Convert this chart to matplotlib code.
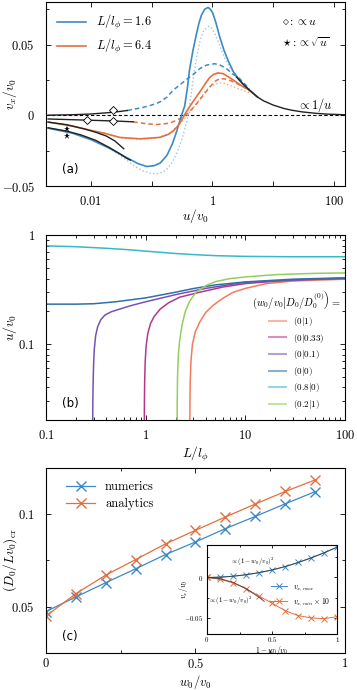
import numpy as np
import matplotlib.pyplot as plt
from matplotlib.lines import Line2D
from matplotlib.ticker import FixedLocator, NullLocator, LogLocator, FixedFormatter

plt.rcParams['mathtext.fontset'] = 'cm'
plt.rcParams['font.family'] = 'serif'
plt.rcParams['font.serif'] = ['cmr10', 'DejaVu Serif']
plt.rcParams['axes.formatter.use_mathtext'] = True
plt.rcParams['font.size'] = 9
plt.rcParams['axes.labelsize'] = 9.5
plt.rcParams['axes.linewidth'] = 0.8

BLUE = '#3d8ac4'
ORANGE = '#e2703f'
LBLUE = '#9cc6e6'
LORANGE = '#f0aa88'

# ---------------- panel (a) data ----------------
u_bs = [0.002, 0.005, 0.01, 0.02, 0.04, 0.06, 0.083, 0.11, 0.14, 0.18, 0.22, 0.26, 0.31, 0.35,
        0.39, 0.42, 0.48, 0.55, 0.6, 0.66, 0.75, 0.85, 0.93, 1.02, 1.15, 1.32, 1.55, 1.8, 2.2, 2.8, 4.1, 5.5]
v_bs = [-0.009, -0.0125, -0.017, -0.023, -0.030, -0.034, -0.036, -0.0355, -0.0335, -0.028, -0.020, -0.011, 0.0,
        0.0065, 0.02, 0.032, 0.046, 0.058, 0.065, 0.0707, 0.075, 0.0762, 0.0748, 0.072, 0.065, 0.0554, 0.046,
        0.039, 0.031, 0.0248, 0.0177, 0.013]

u_bd = [0.02, 0.03, 0.05, 0.07, 0.1, 0.13, 0.17, 0.22, 0.27, 0.32, 0.36, 0.40, 0.45, 0.5, 0.56, 0.63, 0.72,
        0.88, 1.0, 1.12, 1.3, 1.5, 1.9, 2.8, 4.1]
v_bd = [-0.023, -0.028, -0.035, -0.039, -0.041, -0.041, -0.039, -0.033, -0.025, -0.016, -0.008, 0.0, 0.016,
        0.030, 0.043, 0.053, 0.060, 0.063, 0.061, 0.057, 0.050, 0.043, 0.034, 0.025, 0.017]

u_bdash = [0.04, 0.07, 0.1, 0.136, 0.18, 0.225, 0.3, 0.42, 0.52, 0.62, 0.8, 1.09, 1.35, 1.7, 2.2, 2.8, 4.1]
v_bdash = [0.0035, 0.0055, 0.0073, 0.0094, 0.013, 0.0177, 0.022, 0.027, 0.030, 0.033, 0.0355, 0.0365,
           0.0355, 0.033, 0.029, 0.026, 0.0185]

u_os = [0.002, 0.005, 0.01, 0.0165, 0.03, 0.065, 0.137, 0.19, 0.226, 0.27, 0.31, 0.37, 0.45, 0.62, 0.78,
        0.9, 1.05, 1.23, 1.5, 1.8, 2.2, 3.0, 4.1, 5.5]
v_os = [-0.0047, -0.0075, -0.0105, -0.0125, -0.0155, -0.0165, -0.0155, -0.0133, -0.011, -0.0075, -0.0035,
        0.0024, 0.008, 0.0165, 0.023, 0.0267, 0.029, 0.030, 0.0295, 0.0275, 0.025, 0.021, 0.0177, 0.013]

u_od = [0.0165, 0.03, 0.06, 0.12, 0.2, 0.3, 0.4, 0.5, 0.6, 0.75, 0.9, 1.1, 1.32, 1.6, 2.0, 3.0, 4.1]
v_od = [-0.0122, -0.0158, -0.0168, -0.016, -0.0125, -0.0055, 0.001, 0.006, 0.011, 0.0165, 0.020, 0.022,
        0.0229, 0.0225, 0.021, 0.018, 0.016]

u_odash = [0.05, 0.08, 0.12, 0.2, 0.3, 0.37, 0.5, 0.7, 0.9, 1.1, 1.32, 1.6, 2.0, 3.0, 4.1]
v_odash = [-0.0045, -0.0058, -0.0064, -0.0055, -0.002, 0.0005, 0.006, 0.014, 0.020, 0.024, 0.026, 0.0258,
           0.0245, 0.021, 0.0178]

# black asymptotes
u_lin_p = [0.002, 0.005, 0.01, 0.02, 0.03, 0.04]
v_lin_p = [0.0002, 0.0005, 0.001, 0.002, 0.0028, 0.0035]
u_lin_n = [0.002, 0.005, 0.01, 0.02, 0.035, 0.05]
v_lin_n = [-0.0025, -0.003, -0.0034, -0.0038, -0.0042, -0.0045]
u_sq1 = [0.002, 0.004, 0.007, 0.012, 0.02, 0.03, 0.04, 0.045]
v_sq1 = [-0.0087, -0.011, -0.0138, -0.0175, -0.0225, -0.027, -0.0305, -0.0315]
u_sq2 = [0.002, 0.004, 0.0077, 0.012, 0.018, 0.025, 0.03, 0.035]
v_sq2 = [-0.0047, -0.0065, -0.0094, -0.0118, -0.0145, -0.018, -0.021, -0.0235]
u_inv = [2.5, 3.2, 4.1, 5.5, 7, 10, 15, 20, 30, 50, 80, 150]
v_inv = [0.027, 0.022, 0.0177, 0.013, 0.0102, 0.0073, 0.0049, 0.0037, 0.0025, 0.0015, 0.0009, 0.0005]

star_u = [0.0041, 0.0041]
star_v = [-0.0094, -0.0146]
dia_u = [0.0086, 0.0235, 0.0235]
dia_v = [-0.0035, 0.0035, -0.004]

# ---------------- panel (b) data ----------------
b_labels = ['(0|1)', '(0|0.33)', '(0|0.1)', '(0|0)', '(0.8|0)', '(0.2|1)']
b_colors = ['#f47b5e', '#b5378c', '#7652b5', '#2f70a8', '#35bac6', '#93cf5c']
b_x = [
    [2.78, 2.785, 2.8, 2.85, 2.95, 3.15, 3.5, 4.0, 4.77, 6, 7.6, 10, 16.3, 30, 100],
    [0.97, 0.972, 0.977, 0.99, 1.01, 1.05, 1.12, 1.22, 1.4, 1.7, 2.2, 3.5, 6, 10, 30, 100],
    [0.294, 0.295, 0.297, 0.30, 0.305, 0.315, 0.33, 0.355, 0.39, 0.45, 0.55, 0.7, 1, 2, 4, 10, 100],
    [0.1, 0.2, 0.3, 0.5, 1, 2, 3, 5, 10, 30, 100],
    [0.1, 0.2, 0.4, 0.7, 1, 1.5, 2, 3, 5, 10, 30, 100],
    [2.07, 2.075, 2.09, 2.13, 2.2, 2.32, 2.5, 2.78, 3.2, 4.09, 5, 7, 10, 20, 50, 100],
]
b_y = [
    [0.02, 0.03, 0.045, 0.07, 0.10, 0.13, 0.16, 0.195, 0.228, 0.265, 0.30, 0.325, 0.36, 0.38, 0.395],
    [0.02, 0.03, 0.045, 0.07, 0.095, 0.125, 0.155, 0.18, 0.21, 0.24, 0.27, 0.30, 0.335, 0.36, 0.39, 0.40],
    [0.02, 0.03, 0.045, 0.065, 0.09, 0.12, 0.145, 0.168, 0.185, 0.198, 0.21, 0.225, 0.245, 0.285, 0.325,
     0.37, 0.405],
    [0.233, 0.233, 0.235, 0.245, 0.266, 0.30, 0.324, 0.35, 0.373, 0.395, 0.407],
    [0.80, 0.785, 0.76, 0.735, 0.715, 0.695, 0.68, 0.665, 0.65, 0.64, 0.635, 0.635],
    [0.02, 0.03, 0.05, 0.08, 0.11, 0.15, 0.20, 0.25, 0.30, 0.347, 0.375, 0.40, 0.414, 0.435, 0.447, 0.451],
]

# ---------------- panel (c) data ----------------
w = [0, 0.1, 0.2, 0.3, 0.4, 0.5, 0.6, 0.7, 0.8, 0.9]
num = [0.0473, 0.0552, 0.0629, 0.0704, 0.0781, 0.0849, 0.0921, 0.0987, 0.1055, 0.1121]
ana = [0.0449, 0.0570, 0.0670, 0.0754, 0.0839, 0.0912, 0.0984, 0.1054, 0.1122, 0.1184]
xi = [0, 0.1, 0.2, 0.3, 0.4, 0.5, 0.6, 0.7, 0.8, 0.9, 1.0]
vmax = [0, 0.0002, 0.0016, 0.0033, 0.0058, 0.0091, 0.0133, 0.0185, 0.0243, 0.0305, 0.0375]
vmin10 = [0, -0.0021, -0.0068, -0.0138, -0.023, -0.0318, -0.0409, -0.0471, -0.050, -0.0509, -0.0484]
xi_fit_p = [0, 0.1, 0.2, 0.3, 0.4, 0.5, 0.6, 0.7, 0.8, 0.9, 1.0]
v_fit_p = [0, 0.0004, 0.0015, 0.0034, 0.006, 0.0094, 0.0135, 0.0184, 0.024, 0.0304, 0.0375]
xi_fit_n = [0, 0.1, 0.2, 0.3, 0.4, 0.44]
v_fit_n = [0, -0.0015, -0.006, -0.0138, -0.0245, -0.0295]

fig = plt.figure(figsize=(3.57, 6.9), dpi=100)
axa = fig.add_axes([0.129, 0.730, 0.837, 0.267])
axb = fig.add_axes([0.129, 0.391, 0.837, 0.268])
axc = fig.add_axes([0.129, 0.054, 0.837, 0.268])
axi = fig.add_axes([0.580, 0.081, 0.364, 0.129])

for ax in (axa, axb, axc, axi):
    ax.tick_params(which='both', direction='in', top=True, right=True, width=0.6)
    ax.tick_params(which='major', length=3.5)
    ax.tick_params(which='minor', length=2)
for ax in (axa, axb, axc):
    ax.tick_params(axis='y', which='both', pad=8)
    ax.tick_params(axis='x', which='both', pad=6.5)
axc.tick_params(axis='x', which='both', pad=3)

# ---- (a) ----
axa.axhline(0, color='k', ls='--', lw=0.8, dashes=(3, 2))
axa.plot(u_bd, v_bd, color=LBLUE, ls=':', lw=1.0)
axa.plot(u_od, v_od, color=LORANGE, ls=':', lw=1.0)
axa.plot(u_bdash, v_bdash, color=BLUE, ls='--', lw=1.1, dashes=(3, 2))
axa.plot(u_odash, v_odash, color=ORANGE, ls='--', lw=1.1, dashes=(3, 2))
axa.plot(u_bs, v_bs, color=BLUE, lw=1.2, label=r'$L/l_\phi = 1.6$')
axa.plot(u_os, v_os, color=ORANGE, lw=1.2, label=r'$L/l_\phi = 6.4$')
for uu, vv in ((u_lin_p, v_lin_p), (u_lin_n, v_lin_n), (u_sq1, v_sq1), (u_sq2, v_sq2), (u_inv, v_inv)):
    axa.plot(uu, vv, color='#222222', lw=1.0)
axa.plot(star_u, star_v, ls='none', marker='*', ms=5, color='k', mew=0)
axa.plot(dia_u, dia_v, ls='none', marker='D', ms=4, mfc='white', mec='k', mew=0.6)
axa.set_xscale('log')
axa.set_xlim(0.00185, 150)
axa.set_ylim(-0.05, 0.08)
axa.xaxis.set_major_locator(FixedLocator([0.01, 0.1, 1, 10, 100]))
axa.xaxis.set_major_formatter(FixedFormatter([r'$0.01$', '', r'$1$', '', r'$100$']))
axa.xaxis.set_minor_locator(NullLocator())
axa.yaxis.set_major_locator(FixedLocator([-0.05, 0, 0.05]))
axa.yaxis.set_major_formatter(FixedFormatter([r'$-0.05$', r'$0$', r'$0.05$']))
axa.yaxis.set_minor_locator(FixedLocator([-0.025, 0.025, 0.075]))
axa.set_xlabel(r'$u/v_0$')
axa.set_ylabel(r'$v_x/v_0$')
axa.xaxis.set_label_coords(0.5, -0.11)
axa.yaxis.set_label_coords(-0.09, 0.5)
axa.legend(loc='upper left', frameon=False, handlelength=2.3, fontsize=9,
           bbox_to_anchor=(0.0, 1.0), labelspacing=0.4)
axa.text(0.79, 0.89, r'$\diamond:\propto u$', transform=axa.transAxes, fontsize=8.5, va='center')
axa.text(0.79, 0.78, r'$\star:\propto \sqrt{u}$', transform=axa.transAxes, fontsize=8.5, va='center')
axa.text(25, 0.0045, r'$\propto 1/u$', fontsize=9)
axa.text(0.055, 0.07, '(a)', transform=axa.transAxes, family='DejaVu Sans', fontsize=8.5)

# ---- (b) ----
handles = []
for xs, ys, c, lab in zip(b_x, b_y, b_colors, b_labels):
    axb.plot(xs, ys, color=c, lw=1.1)
    handles.append(Line2D([], [], color=c, lw=1.5, alpha=0.55, label='$' + lab + '$'))
axb.set_xscale('log')
axb.set_yscale('log')
axb.set_xlim(0.1, 100)
axb.set_ylim(0.02, 1)
axb.xaxis.set_major_locator(FixedLocator([0.1, 1, 10, 100]))
axb.xaxis.set_major_formatter(FixedFormatter([r'$0.1$', r'$1$', r'$10$', r'$100$']))
axb.xaxis.set_minor_locator(LogLocator(base=10, subs=np.arange(2, 10)))
axb.yaxis.set_major_locator(FixedLocator([0.1, 1]))
axb.yaxis.set_major_formatter(FixedFormatter([r'$0.1$', r'$1$']))
axb.yaxis.set_minor_locator(LogLocator(base=10, subs=np.arange(2, 10)))
axb.yaxis.set_minor_formatter(FixedFormatter([]))
axb.xaxis.set_minor_formatter(FixedFormatter([]))
axb.set_xlabel(r'$L/l_\phi$')
axb.set_ylabel(r'$u/v_0$')
axb.xaxis.set_label_coords(0.5, -0.135)
axb.yaxis.set_label_coords(-0.09, 0.5)
leg = axb.legend(handles=handles, loc='lower right', frameon=False, fontsize=6.5,
                 title=r'$\left(w_0/v_0\right|\left.D_0/D_0^{(0)}\right)=$',
                 title_fontsize=7.5, handlelength=1.9, labelspacing=0.4,
                 bbox_to_anchor=(1.0, 0.03), borderaxespad=0.2, borderpad=0.2)
axb.text(0.055, 0.07, '(b)', transform=axb.transAxes, family='DejaVu Sans', fontsize=8.5)

# ---- (c) ----
axc.plot(w, num, color=BLUE, lw=0.9, marker='x', ms=7, mew=1.0, label='numerics')
axc.plot(w, ana, color=ORANGE, lw=0.9, marker='x', ms=7, mew=1.0, label='analytics')
axc.set_xlim(0, 1)
axc.set_ylim(0.025, 0.125)
axc.xaxis.set_major_locator(FixedLocator([0, 0.5, 1]))
axc.xaxis.set_major_formatter(FixedFormatter([r'$0$', r'$0.5$', r'$1$']))
axc.xaxis.set_minor_locator(FixedLocator([0.25, 0.75]))
axc.yaxis.set_major_locator(FixedLocator([0.05, 0.1]))
axc.yaxis.set_major_formatter(FixedFormatter([r'$0.05$', r'$0.1$']))
axc.yaxis.set_minor_locator(FixedLocator([0.075]))
axc.set_xlabel(r'$w_0/v_0$', fontsize=9)
axc.set_ylabel(r'$(D_0/Lv_0)_{\rm cr}$')
axc.xaxis.set_label_coords(0.5, -0.108)
axc.yaxis.set_label_coords(-0.09, 0.5)
axc.legend(loc='upper left', frameon=False, fontsize=9, handlelength=2.3,
           bbox_to_anchor=(0.03, 0.99), labelspacing=0.4)
axc.text(0.055, 0.07, '(c)', transform=axc.transAxes, family='DejaVu Sans', fontsize=8.5)

# ---- inset ----
axi.plot(xi, vmax, color=BLUE, lw=0.7, marker='x', ms=4, mew=0.7, label=r'$v_{x,max}$')
axi.plot(xi, vmin10, color=ORANGE, lw=0.7, marker='x', ms=4, mew=0.7, label=r'$v_{x,min}\times 10$')
axi.plot(xi_fit_p, v_fit_p, color='#333333', lw=0.7, alpha=0.8)
axi.plot(xi_fit_n, v_fit_n, color='#333333', lw=0.7, alpha=0.8)
axi.set_xlim(0, 1)
axi.set_ylim(-0.07, 0.04)
axi.xaxis.set_major_locator(FixedLocator([0, 0.5, 1]))
axi.xaxis.set_major_formatter(FixedFormatter([r'$0$', r'$0.5$', r'$1$']))
axi.xaxis.set_minor_locator(FixedLocator([0.25, 0.75]))
axi.yaxis.set_major_locator(FixedLocator([-0.05, 0]))
axi.yaxis.set_major_formatter(FixedFormatter([r'$-0.05$', r'$0$']))
axi.yaxis.set_minor_locator(FixedLocator([-0.025, 0.025]))
axi.tick_params(which='both', labelsize=5, pad=1)
axi.tick_params(axis='y', which='both', pad=3)
axi.tick_params(which='major', length=2.5)
axi.tick_params(which='minor', length=1.5)
axi.set_xlabel(r'$1-w_0/v_0$', fontsize=5.5)
axi.set_ylabel(r'$v_x/v_0$', fontsize=5.5)
axi.xaxis.set_label_coords(0.5, -0.11)
axi.yaxis.set_label_coords(-0.13, 0.5)
axi.text(0.18, 0.019, r'$\propto(1-w_0/v_0)^2$', fontsize=4.8, va='center')
axi.text(0.01, -0.029, r'$\propto(1-w_0/v_0)^2$', fontsize=4.8, va='center')
axi.legend(loc='center right', frameon=False, fontsize=5.5, handlelength=2.0,
           bbox_to_anchor=(1.0, 0.44), labelspacing=0.5)

fig.savefig('out.png', dpi=100)
